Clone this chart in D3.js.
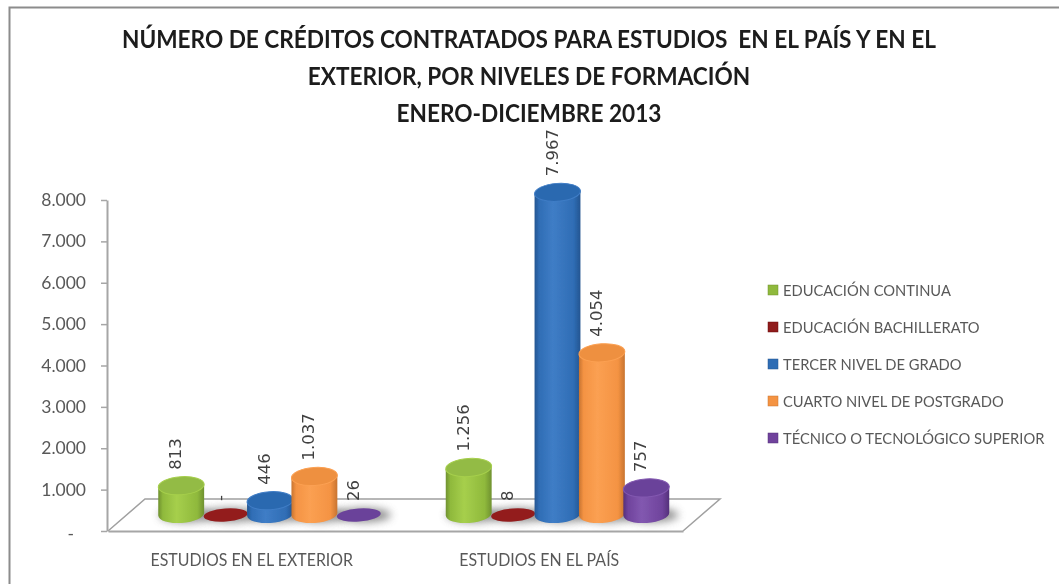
<!DOCTYPE html>
<html>
<head>
<meta charset="utf-8">
<script src="https://cdn.jsdelivr.net/npm/d3@7"></script>
<style>
  html, body { margin: 0; background: #fff; }
  svg { display: block; }
  text { font-family: Lato, sans-serif; }
</style>
</head>
<body>
<div class="chart"></div>
<script>
const titleLines = [
  "NÚMERO DE CRÉDITOS CONTRATADOS PARA ESTUDIOS  EN EL PAÍS Y EN EL",
  "EXTERIOR, POR NIVELES DE FORMACIÓN",
  "ENERO-DICIEMBRE 2013"
];
const categories = ["ESTUDIOS EN EL EXTERIOR", "ESTUDIOS EN EL PAÍS"];
const seriesNames = [
  "EDUCACIÓN CONTINUA",
  "EDUCACIÓN BACHILLERATO",
  "TERCER NIVEL DE GRADO",
  "CUARTO NIVEL DE POSTGRADO",
  "TÉCNICO O TECNOLÓGICO SUPERIOR"
];
const continua = [813, 1256];
const bachillerato = [0, 8];
const tercerNivel = [446, 7967];
const cuartoNivel = [1037, 4054];
const tecnico = [26, 757];
const seriesValues = [continua, bachillerato, tercerNivel, cuartoNivel, tecnico];
const yTicks = [0, 1000, 2000, 3000, 4000, 5000, 6000, 7000, 8000];
const seriesColors = [
  { light: "#a6cf4c", mid: "#8fb93c", dark: "#6f9130", top: "#93bb45" },
  { light: "#a82424", mid: "#8f1c1c", dark: "#6e1212", top: "#931c1e" },
  { light: "#3f7dc6", mid: "#2f6db5", dark: "#245591", top: "#2c69b0" },
  { light: "#fba052", mid: "#f49343", dark: "#c87430", top: "#ee9040" },
  { light: "#8258b0", mid: "#6f439c", dark: "#54307a", top: "#6b429a" }
];

const W = 1059, H = 584;
const svg = d3.select(".chart").append("svg")
  .attr("width", W).attr("height", H).attr("viewBox", `0 0 ${W} ${H}`);
const defs = svg.append("defs");

// gradients for the cylinders
seriesColors.forEach(function (c, i) {
  let g = defs.append("linearGradient").attr("id", "body" + i);
  g.append("stop").attr("offset", "0%").attr("stop-color", c.dark);
  g.append("stop").attr("offset", "10%").attr("stop-color", c.mid);
  g.append("stop").attr("offset", "40%").attr("stop-color", c.light);
  g.append("stop").attr("offset", "85%").attr("stop-color", c.mid);
  g.append("stop").attr("offset", "100%").attr("stop-color", c.dark);
});
defs.append("filter").attr("id", "soft")
  .attr("x", "-30%").attr("y", "-80%").attr("width", "160%").attr("height", "260%")
  .append("feGaussianBlur").attr("stdDeviation", 4);
defs.append("filter").attr("id", "scan")
  .attr("x", "0").attr("y", "0").attr("width", W).attr("height", H)
  .attr("filterUnits", "userSpaceOnUse")
  .append("feGaussianBlur").attr("stdDeviation", 0.45);

const root = svg.append("g").attr("filter", "url(#scan)");
root.append("rect").attr("width", W).attr("height", H).attr("fill", "#fff");

// marco
root.append("path").attr("d", `M9.5,${H}V7.5H${W}`)
  .attr("fill", "none").attr("stroke", "#8c8c8c").attr("stroke-width", 2);

// texto angosto (la fuente original es mas condensada)
function squeeze(sel, sx) {
  sel.each(function () {
    const t = d3.select(this);
    const px = +t.attr("x") || 0;
    t.attr("transform", `translate(${px * (1 - sx)},0) scale(${sx},1)`);
  });
}

// titulo
const titleBase = [48, 85, 122];
root.selectAll("text.title").data(titleLines).enter().append("text")
  .attr("class", "title")
  .attr("x", 529)
  .attr("y", function (d, i) { return titleBase[i]; })
  .attr("text-anchor", "middle")
  .attr("font-size", 25)
  .attr("font-weight", 700)
  .attr("fill", "#1a1a1a")
  .style("white-space", "pre")
  .text(function (d) { return d; })
  .call(squeeze, 0.905);

// escalas
const locale = d3.formatLocale({ decimal: ",", thousands: ".", grouping: [3], currency: ["$", ""] });
const fmt = locale.format(",");
const label = function (v) { return v === 0 ? "-" : fmt(v); };

const y = d3.scaleLinear().domain([0, 8000]).range([531, 200]);
// las columnas 3D van sobre el piso, un poco mas arriba que el eje
const yBar = d3.scaleLinear().domain([0, 8000]).range([519, 191]);
const baseY = 514;
const x0 = d3.scaleBand().domain(categories).range([126, 701]);
const x1 = d3.scaleBand().domain(d3.range(seriesNames.length)).range([33, 255]);
const xFront = d3.scaleBand().domain(categories).range([108, 683]);

// piso
const floorBack = 499;
root.append("path")
  .attr("d", `M${xFront.range()[0]},${y(0)}L145,${floorBack}H720L${xFront.range()[1]},${y(0)}`)
  .attr("fill", "#fff").attr("stroke", "#a0a0a0").attr("stroke-width", 1.5);

// ejes
const yAxis = root.append("g").attr("transform", "translate(107,0)")
  .call(d3.axisLeft(y).tickValues(yTicks).tickFormat(label).tickSize(6).tickSizeOuter(0).tickPadding(15));
yAxis.select(".domain").attr("stroke", "#a6a6a6").attr("stroke-width", 2);
yAxis.selectAll(".tick line").attr("stroke", "#a6a6a6").attr("stroke-width", 1.5);
yAxis.selectAll(".tick text").attr("font-size", 17.5).attr("fill", "#595959").style("font-family", "Lato, sans-serif");
yAxis.selectAll(".tick text").filter(function (d) { return d === 0; }).attr("dx", -12).attr("dy", "0.5em");

const xAxis = root.append("g").attr("transform", `translate(0,${y(0)})`)
  .call(d3.axisBottom(xFront).tickSize(0).tickPadding(23));
xAxis.select(".domain").attr("stroke", "#a6a6a6").attr("stroke-width", 2);
xAxis.selectAll(".tick text").attr("font-size", 17.5).attr("fill", "#595959")
  .style("font-family", "Lato, sans-serif")
  .attr("transform", "scale(0.91,1)");

// filas para dibujar
let rows = [];
seriesValues.forEach(function (vals, s) {
  vals.forEach(function (v, c) {
    rows.push({ s: s, c: categories[c], v: v, cx: x0(categories[c]) + x1(s) + x1.bandwidth() / 2 });
  });
});

const tilt = -4, rad = tilt * Math.PI / 180;

root.selectAll("ellipse.shadow").data(rows).enter().append("ellipse")
  .attr("class", "shadow")
  .attr("cx", function (d) { return d.cx + 5; })
  .attr("cy", baseY + 1)
  .attr("rx", 27).attr("ry", 7)
  .attr("fill", "#6e6e6e").attr("opacity", 0.8)
  .attr("filter", "url(#soft)");

// primero los discos planos, luego los cilindros
const isDisc = function (d) { return d.v < 100; };
const order = rows.slice().sort(function (a, b) { return d3.ascending(isDisc(b), isDisc(a)); });

const marks = root.selectAll("g.bar").data(order).enter().append("g").attr("class", "bar");

marks.filter(function (d) { return !isDisc(d); }).append("path")
  .attr("fill", function (d) { return `url(#body${d.s})`; })
  .attr("d", function (d) {
    const rx = 23, ry = 9;
    const dx = rx * Math.cos(rad), dy = rx * Math.sin(rad);
    const t = yBar(d.v);
    return `M${d.cx - dx},${t - dy}L${d.cx + dx},${t + dy}L${d.cx + dx},${baseY + dy}` +
      `A${rx},${ry} ${tilt} 0 1 ${d.cx - dx},${baseY - dy}Z`;
  });

marks.append("ellipse")
  .attr("transform", function (d) {
    return `translate(${d.cx},${isDisc(d) ? baseY + 1 : yBar(d.v)}) rotate(${tilt})`;
  })
  .attr("rx", function (d) { return isDisc(d) ? 22 : 23; })
  .attr("ry", function (d) { return isDisc(d) ? 6.5 : 9; })
  .attr("fill", function (d) { return seriesColors[d.s].top; })
  .attr("stroke", function (d) { return isDisc(d) ? "none" : seriesColors[d.s].light; })
  .attr("stroke-width", 1);

// etiquetas de valor
root.selectAll("text.value").data(rows).enter().append("text")
  .attr("class", "value")
  .attr("transform", function (d) { return `translate(${d.cx},${Math.min(yBar(d.v), baseY + 3) - 16}) rotate(-90)`; })
  .attr("font-size", 16.5)
  .attr("fill", "#404040")
  .style("font-family", "'DejaVu Sans', sans-serif")
  .text(function (d) { return label(d.v); });

// leyenda
const legendY = d3.scalePoint().domain(seriesNames).range([290, 438]);
const legend = root.selectAll("g.legend").data(seriesNames).enter().append("g")
  .attr("class", "legend")
  .attr("transform", function (d) { return `translate(768,${legendY(d)})`; });
legend.append("rect")
  .attr("x", 0).attr("y", -5).attr("width", 10).attr("height", 10)
  .attr("fill", function (d, i) { return seriesColors[i].mid; })
  .attr("stroke", function (d, i) { return seriesColors[i].dark; })
  .attr("stroke-width", 0.5);
legend.append("text")
  .attr("x", 15).attr("y", 5.5)
  .attr("font-size", 16)
  .attr("fill", "#595959")
  .text(function (d) { return d; })
  .call(squeeze, 0.92);
</script>
</body>
</html>
